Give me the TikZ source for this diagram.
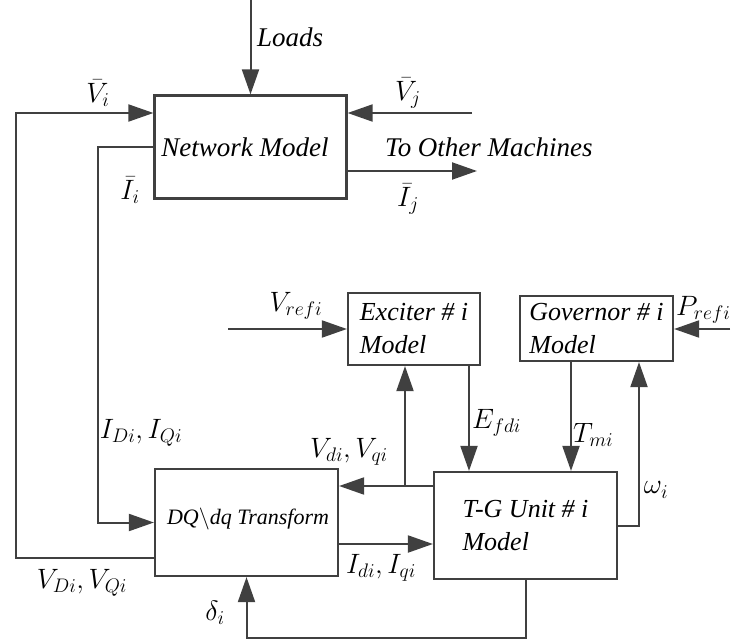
\RequirePackage{fix-cm}
\documentclass[tikz,border=0pt]{standalone}
\usepackage{amsmath}
\usepackage{fontspec}
\setmainfont{Liberation Serif}
\usepackage{tikz}
\usetikzlibrary{arrows.meta, positioning, calc}
\definecolor{linegray}{HTML}{404040}

\begin{document}
\begin{tikzpicture}[
  x=1pt, y=-1pt,
  % Box styles
  block/.style={draw=linegray, line width=2.2pt, minimum width=#1, align=left, inner sep=0pt,
                font=\fontsize{26}{33}\selectfont\itshape},
  arrow/.style={-{Triangle[length=25pt, width=17pt]}, line width=2pt, draw=linegray},
  lbl/.style={inner sep=0pt, font=\fontsize{28}{32}\selectfont},
  txt/.style={inner sep=0pt, font=\fontsize{27}{31}\selectfont\itshape},
]
\useasboundingbox (0,0) rectangle (735,639);

% ---- BLOCKS ----
\node[block=192pt, minimum height=103pt] (net) at (250.5,147) {};
\node[block=132pt, minimum height=72pt]  (exc) at (414,329)   {Exciter \# \textit{i}\\Model};
\node[block=153pt, minimum height=65pt]  (gov) at (596.5,328.5) {Governor \# \textit{i}\\Model};
\node[block=183pt, minimum height=107pt] (dq)  at (246.5,522.5) {};
\node[block=183pt, minimum height=107pt] (tg)  at (525.5,525.5) {T-G Unit \# \textit{i}\\Model};

\node[txt] (nettext) at (245,147) {Network Model};
\node[txt, font=\fontsize{22}{26}\selectfont\itshape] (dqtext) at (248,519) {DQ$\backslash$dq Transform};

% ---- free ends ----
\coordinate (ld)   at (250.5,0);
\coordinate (vj)   at (472,113);
\coordinate (ij)   at (477,171);
\coordinate (vref) at (228,329);
\coordinate (pref) at (730,329);
\coordinate (jn)   at (405,486);

% ---- NETWORK connections ----
\draw[arrow] (ld) -- (net.north);
\draw[arrow] ([yshift=19pt]dq.south west) -| (16,113) -- (net.west |- 16,113);
\draw[arrow] (net.west) -- ++(-55,0) |- (dq.west);
\draw[arrow] (vj) -- (net.east |- vj);
\draw[arrow] (net.east |- ij) -- (ij);

% ---- CONTROLLERS ----
\draw[arrow] (vref) -- (exc.west |- vref);
\draw[arrow] (pref) -- (gov.east |- pref);
\draw[arrow] ([xshift=55pt]exc.south) -- ([xshift=55pt]exc.south |- tg.north);
\draw[arrow] ([xshift=-25.5pt]gov.south) -- ([xshift=-25.5pt]gov.south |- tg.north);
\draw[arrow] (tg.east) -| ([xshift=42.5pt]gov.south);

% ---- DQ <-> T-G ----
\draw[arrow] (tg.west |- jn) -- (dq.east |- jn);
\draw[arrow] (jn) -- (jn |- exc.south);
\draw[arrow] (dq.east |- 0,544) -- (tg.west |- 0,544);
\draw[arrow] (tg.south) -- ++(0,58) -| (dq.south);

% ---- labels ----
\node[txt, anchor=west] at (257,37) {Loads};
\node[lbl] at (98,93)   {$\bar{V}_i$};
\node[lbl] at (408,93)  {$\bar{V}_j$};
\node[lbl] at (130,190) {$\bar{I}_i$};
\node[txt, anchor=west] at (385,147) {To Other Machines};
\node[lbl] at (408,199) {$\bar{I}_j$};
\node[lbl] at (296,306) {$V_{refi}$};
\node[lbl, anchor=west] at (676,310) {$P_{refi}$};
\node[lbl] at (141,433) {$I_{Di},I_{Qi}$};
\node[lbl] at (349,452) {$V_{di},V_{qi}$};
\node[lbl, anchor=west] at (472,423) {$E_{fdi}$};
\node[lbl, anchor=west] at (573,435) {$T_{mi}$};
\node[lbl] at (656,490) {$\omega_i$};
\node[lbl] at (381,568) {$I_{di},I_{qi}$};
\node[lbl] at (82,583)  {$V_{Di},V_{Qi}$};
\node[lbl] at (215,613) {$\delta_i$};

\end{tikzpicture}
\end{document}
